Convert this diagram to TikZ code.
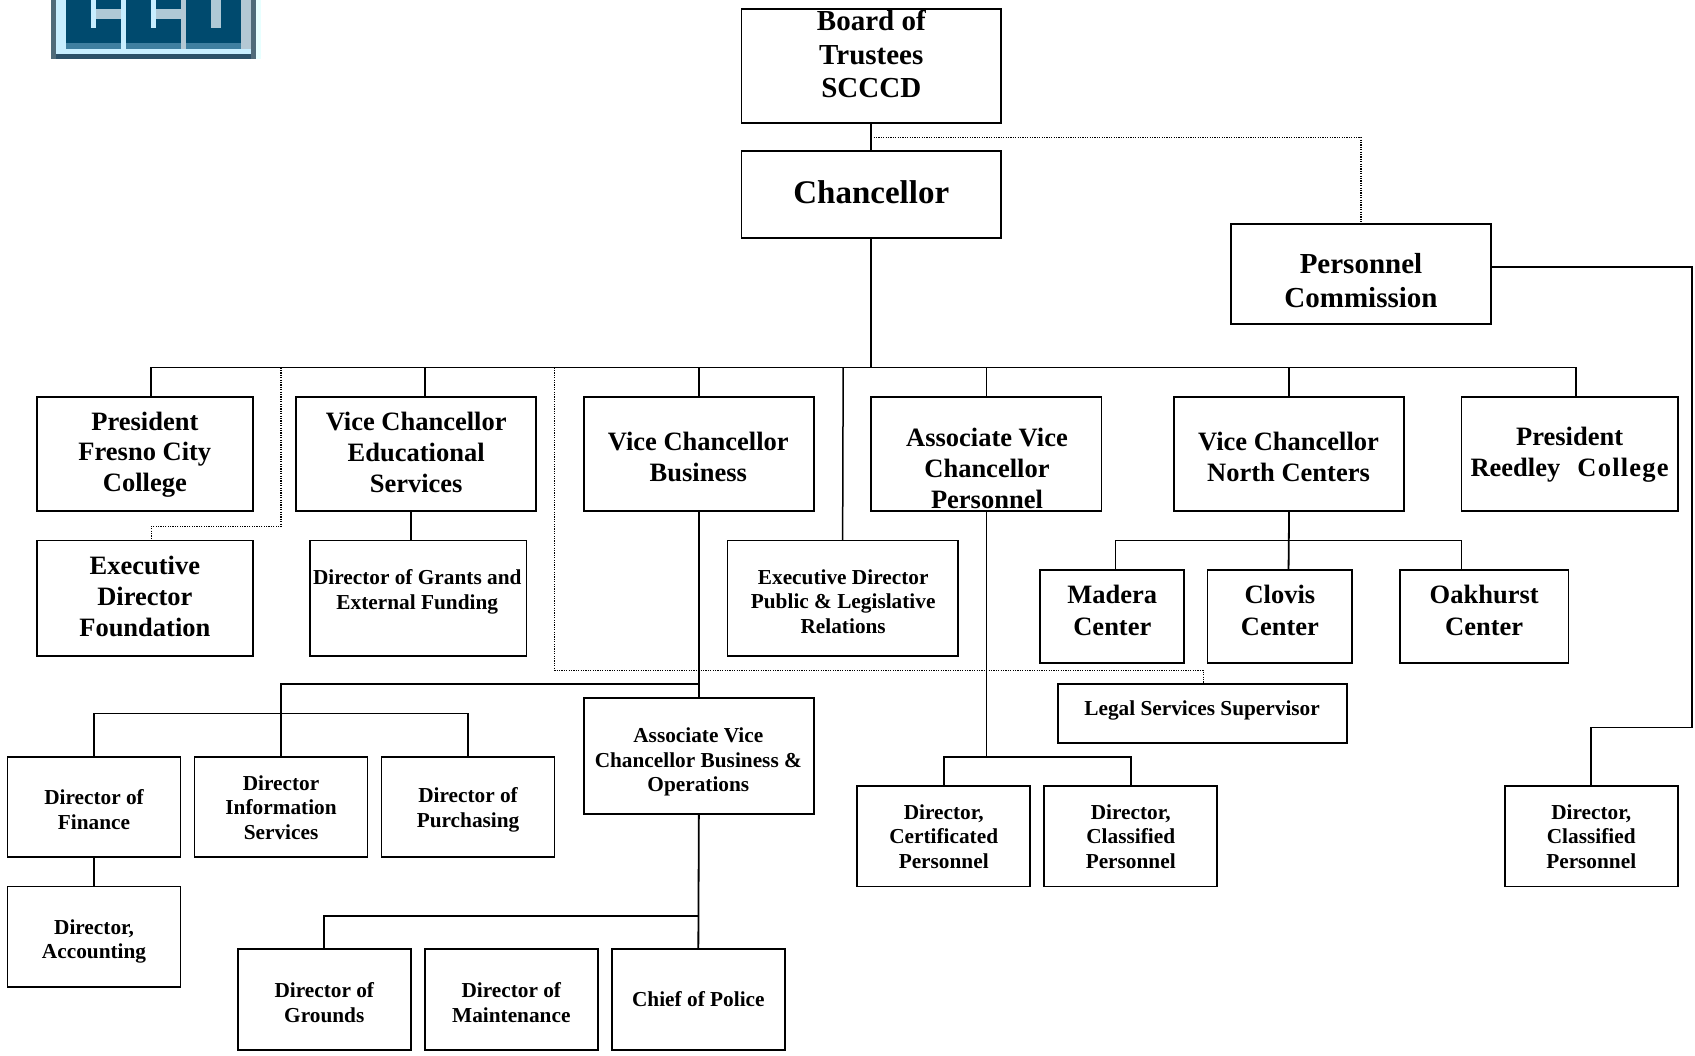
\documentclass[tikz,border=0pt]{standalone}
\usepackage{fontspec}
\setmainfont{Liberation Serif}
\definecolor{logoblue}{HTML}{004A6E}
\definecolor{logoslate}{HTML}{4F6B7A}
\definecolor{logolight}{HTML}{C8EEFF}
\definecolor{logomid}{HTML}{3F7FA0}
\definecolor{logoedge}{HTML}{2C5068}
\definecolor{logobar}{HTML}{AFC9D6}
\definecolor{logogrey}{HTML}{B4C8D4}
\definecolor{logopale}{HTML}{E8FFFF}
\tikzset{
  orgframe/.style={draw=black,line width=1.8pt,inner sep=0pt,outer sep=0pt,fill=none},
  orgtext/.style={align=center,inner sep=0pt,outer sep=0pt},
  fxl/.style={font=\fontsize{33}{36}\selectfont\bfseries},
  flg/.style={font=\fontsize{29}{33.5}\selectfont\bfseries},
  fmd/.style={font=\fontsize{26.5}{30.8}\selectfont\bfseries},
  fmx/.style={font=\fontsize{26.5}{32.4}\selectfont\bfseries},
  fsm/.style={font=\fontsize{21.3}{24.6}\selectfont\bfseries},
  solidline/.style={draw=black,line width=1.8pt},
  thinline/.style={draw=black,line width=1.5pt},
  dotline/.style={draw=black,line width=1.2pt,dash pattern=on 1.2pt off 1.2pt},
}
% name, x1, y1, x2, y2, text style, text x, text y, text
\newcommand{\orgframe}[5]{%
  \pgfmathsetlengthmacro{\bw}{(#4-#2)*1.081pt}%
  \pgfmathsetlengthmacro{\bh}{(#5-#3)*1.081pt}%
  \node[orgframe,minimum width=\bw,minimum height=\bh] (#1) at ({(#2+#4)/2},{(#3+#5)/2}) {};%
}
\newcommand{\orgbox}[9]{%
  \orgframe{#1}{#2}{#3}{#4}{#5}%
  \node[orgtext,#6] (#1-t) at (#7,#8) {#9};%
}
\begin{document}
\begin{tikzpicture}[x=1.081pt,y=-1.081pt]
\useasboundingbox (0,0) rectangle (1568,976);
% logo
\begin{scope}[x=1pt,y=-1pt]
\fill[logopale] (256,0) rectangle (261,59);
\fill[logoslate] (51,0) rectangle (256,59);
\fill[logolight] (56,0) rectangle (251,54);
\fill[logogrey] (241,0) rectangle (251,49);
\fill[logoedge] (56,54) rectangle (251,59);
\fill[logoblue] (66,0) rectangle (241,43);
\fill[logomid] (66,43) rectangle (241,49);
\fill[logolight] (91,0) rectangle (96,28);
\fill[logobar] (96,9) rectangle (121,19);
\fill[logolight] (121,0) rectangle (126,49);
\fill[logolight] (151,0) rectangle (156,28);
\fill[logobar] (156,9) rectangle (181,19);
\fill[logogrey] (181,0) rectangle (186,49);
\fill[logobar] (211,0) rectangle (221,28);
\end{scope}
% boxes
\orgbox{board}{686}{8}{926}{114}{flg}{806}{50}{Board of\\Trustees\\SCCCD}
\orgbox{chan}{686}{140}{926}{220}{fxl}{806}{178}{Chancellor}
\orgbox{pc}{1139}{207}{1379}{300}{flg}{1259}{259.5}{Personnel\\Commission}
\orgbox{fcc}{34}{367}{234}{473}{fmd}{134}{420.5}{President\\Fresno City\\College}
\orgbox{vce}{274}{367}{496}{473}{fmd}{385}{418.5}{Vice Chancellor\\Educational\\Services}
\orgbox{vcb}{540}{367}{753}{473}{fmd}{646}{423}{Vice Chancellor\\Business}
\orgbox{avp}{806}{367}{1019}{473}{fmd}{913}{433.5}{Associate Vice\\Chancellor\\Personnel}
\orgbox{vcn}{1086}{367}{1299}{473}{fmd}{1192}{423}{Vice Chancellor\\North Centers}
\orgframe{prc}{1352}{367}{1552}{473}
\begin{scope}
\clip (1353,368) rectangle (1551,446.5);
\node[orgtext,fmd] (prc-t) at (1452,421) {President\\Reedley\hspace{10.5pt} {\addfontfeature{LetterSpace=4.6}College}};
\end{scope}
\orgbox{edf}{34}{500}{234}{607}{fmd}{134}{552}{Executive\\Director\\Foundation}
\orgbox{dge}{287}{500}{487}{607}{fsm}{386}{547.5}{Director of Grants and\\External Funding}
\orgbox{edp}{673}{500}{886}{607}{fsm}{780}{556.5}{Executive Director\\Public \& Legislative\\Relations}
\orgbox{mad}{962}{527}{1095}{613}{fmx}{1029}{564.5}{Madera\\Center}
\orgbox{clo}{1117}{527}{1251}{613}{fmx}{1184}{564.5}{Clovis\\Center}
\orgbox{oak}{1295}{527}{1451}{613}{fmx}{1373}{564.5}{Oakhurst\\Center}
\orgbox{leg}{979}{633}{1246}{687}{fsm}{1112}{657}{Legal Services Supervisor}
\orgbox{abo}{540}{646}{753}{753}{fsm}{646}{705}{Associate Vice\\Chancellor Business \&\\Operations}
\orgbox{fin}{7}{700}{167}{793}{fsm}{87}{749}{Director of\\Finance}
\orgbox{dis}{180}{700}{340}{793}{fsm}{260}{747}{Director\\Information\\Services}
\orgbox{pur}{353}{700}{513}{793}{fsm}{433}{749}{Director of\\Purchasing}
\orgbox{acc}{7}{820}{167}{913}{fsm}{87}{871}{Director,\\Accounting}
\orgbox{gro}{220}{878}{380}{971}{fsm}{300}{927.5}{Director of\\Grounds}
\orgbox{mai}{393}{878}{553}{971}{fsm}{473}{927.5}{Director of\\Maintenance}
\orgbox{pol}{566}{878}{726}{971}{fsm}{646}{924}{Chief of Police}
\orgbox{cer}{793}{727}{953}{820}{fsm}{873}{774}{Director,\\Certificated\\Personnel}
\orgbox{cla}{966}{727}{1126}{820}{fsm}{1046}{774}{Director,\\Classified\\Personnel}
\orgbox{clb}{1392}{727}{1552}{820}{fsm}{1472}{774}{Director,\\Classified\\Personnel}
% junctions
\coordinate (bl) at (140,340);
\coordinate (br) at (1458,340);
\coordinate (bc) at (806,340);
\coordinate (dedu) at (393,340);
\coordinate (dedp) at (780,340);
\coordinate (davp) at (912.5,340);
\coordinate (dbot) at (380,473);
\coordinate (fdot) at (260,340);
\coordinate (ldot) at (513,340);
\coordinate (tdot) at (806,127);
\coordinate (h2) at (646,633);
\coordinate (dfin) at (260,660);
\coordinate (h3) at (646,847);
\coordinate (h4) at (912.5,700);
\coordinate (h5) at (1192,500);
\coordinate (mdl) at (1032,500);
\coordinate (mdr) at (1352,500);
\coordinate (pcr) at (1565,247);
\coordinate (pcb) at (1565,673);
% solid connectors
\draw[solidline] (board) -- (chan);
\draw[solidline] (chan) -- (bc);
\draw[solidline] (bl |- fcc.north) -- (bl) -- (br) -- (br |- prc.north);
\draw[thinline] (dedu) -- (dedu |- vce.north);
\draw[solidline] (vcb.north |- bc) -- (vcb.north);
\draw[thinline] (dedp) -- (edp.north);
\draw[thinline] (davp) -- (avp.north -| davp);
\draw[solidline] (vcn.north |- bc) -- (vcn.north);
\draw[solidline] (dbot) -- (dbot |- dge.north);
\draw[solidline] (vcb.south) -- (abo.north);
\draw[solidline] (h2) -- (h2 -| dis.north) -- (dis.north);
\draw[solidline] (fin.north) -- (fin.north |- dfin) -- (pur.north |- dfin) -- (pur.north);
\draw[thinline] (fin.south) -- (acc.north);
\draw[solidline] (abo.south) -- (pol.north);
\draw[solidline] (h3) -- (gro.north |- h3) -- (gro.north);
\draw[thinline] (davp |- avp.south) -- (h4);
\draw[solidline] (cer.north) -- (cer.north |- h4) -- (cla.north |- h4) -- (cla.north);
\draw[solidline] (vcn.south) -- (h5 |- mad.north);
\draw[solidline] (mdl |- mad.north) -- (mdl) -- (mdr) -- (mdr |- mad.north);
\draw[solidline] (pc.east |- pcr) -- (pcr) -- (pcb) -- (clb.north |- pcb) -- (clb.north);
% dotted connectors
\draw[dotline] (tdot) -| (pc.north);
\draw[dotline] (fdot) -- (260,487) -- (140,487) -- (140,500);
\draw[dotline] (ldot) -- (513,620) -- (1113,620) -- (1113,633);
\end{tikzpicture}
\end{document}
